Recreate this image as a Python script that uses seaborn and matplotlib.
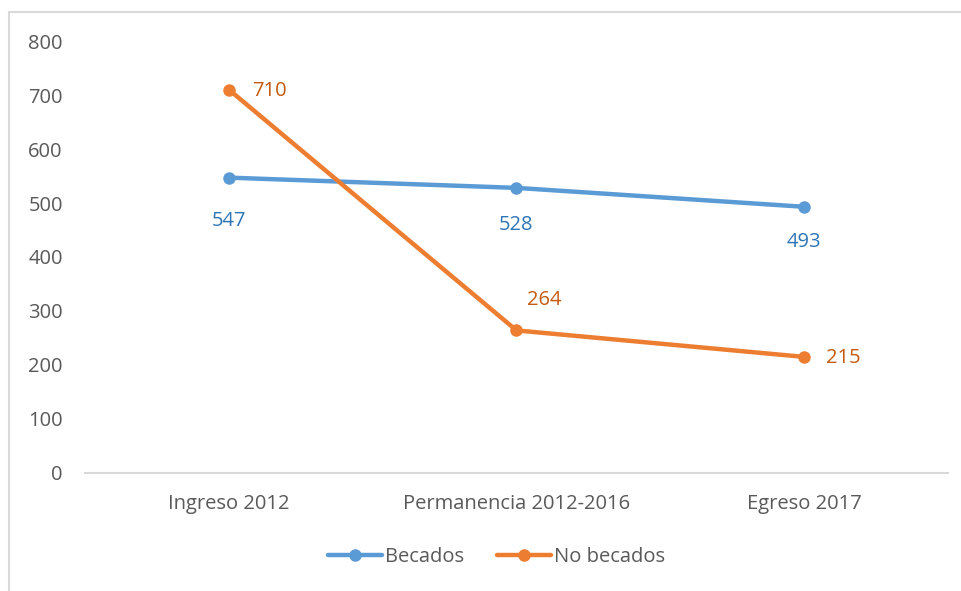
import matplotlib
matplotlib.use("Agg")
import matplotlib.pyplot as plt
from matplotlib.lines import Line2D
import seaborn as sns
import pandas as pd

categorias = ["Ingreso 2012", "Permanencia 2012-2016", "Egreso 2017"]
becados = [547, 528, 493]
no_becados = [710, 264, 215]
series = ["Becados", "No becados"]
yticks = [0, 100, 200, 300, 400, 500, 600, 700, 800]

df = pd.DataFrame({
    "etapa": categorias * 2,
    "valor": becados + no_becados,
    "grupo": [series[0]] * 3 + [series[1]] * 3,
})

sns.set_theme(style="white")
plt.rcParams["font.family"] = ["Open Sans", "DejaVu Sans"]

grey = "#595959"
line_cols = {"Becados": "#5B9BD5", "No becados": "#ED7D31"}
lab_cols = {"Becados": "#2E75B6", "No becados": "#C55A11"}
fs = 14.5

fig = plt.figure(figsize=(9.62, 5.91), dpi=100)
ax = fig.add_axes([0.0884, 0.1997, 0.897, 0.7309])

sns.lineplot(data=df, x="etapa", y="valor", hue="grupo", palette=line_cols,
             marker="o", markersize=9, markeredgewidth=0, linewidth=3.2,
             ax=ax, legend=False, sort=False)

ax.set_xlim(-0.5, 2.5)
ax.set_ylim(0, 800)
ax.set_yticks(yticks)
ax.set_xlabel("")
ax.set_ylabel("")
ax.tick_params(axis="both", length=0, labelsize=fs, colors=grey)
ax.tick_params(axis="y", pad=16)
ax.tick_params(axis="x", pad=15)
for s in ["top", "right", "left"]:
    ax.spines[s].set_visible(False)
ax.spines["bottom"].set_color("#D9D9D9")
ax.spines["bottom"].set_linewidth(1.5)

# data labels
off_b = [(0, -31), (0, -27), (0, -25)]
for i, v in enumerate(becados):
    ax.annotate(str(v), (i, v), xytext=off_b[i], textcoords="offset points",
                ha="center", va="center", fontsize=fs, color=lab_cols["Becados"])
off_n = [(29, -1), (20, 22), (28, -1)]
for i, v in enumerate(no_becados):
    ax.annotate(str(v), (i, v), xytext=off_n[i], textcoords="offset points",
                ha="center", va="center", fontsize=fs, color=lab_cols["No becados"])

handles = [Line2D([0], [0], color=line_cols[s], lw=3.2, marker="o", markersize=9,
                  markeredgewidth=0) for s in series]
fig.legend(handles, series, loc="center", bbox_to_anchor=(0.516, 0.057), ncol=2,
           frameon=False, fontsize=fs, labelcolor=grey, handlelength=2.7,
           handletextpad=0.15, columnspacing=1.6)

# chart frame (top and left edges)
fig.add_artist(Line2D([9 / 962, 1.0], [1 - 12 / 591, 1 - 12 / 591],
                      transform=fig.transFigure, color="#D9D9D9", lw=1.5))
fig.add_artist(Line2D([9 / 962, 9 / 962], [0, 1 - 12 / 591],
                      transform=fig.transFigure, color="#D9D9D9", lw=1.5))

fig.savefig("out.png", dpi=100)
